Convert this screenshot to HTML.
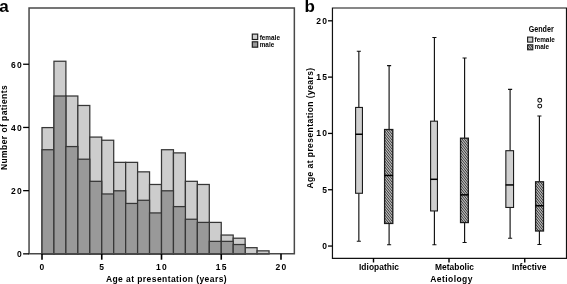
<!DOCTYPE html>
<html lang="en"><head><meta charset="utf-8"><title>Figure</title>
<style>
html,body{margin:0;padding:0;background:#fff;}
body{width:567px;height:284px;overflow:hidden;}
svg{display:block;}
text{font-family:"Liberation Sans",Arial,Helvetica,sans-serif;font-weight:bold;fill:#000;}
.t{font-size:8.5px;letter-spacing:0.43px;}
.k{font-size:8.5px;letter-spacing:1.25px;}
.c{font-size:8.4px;letter-spacing:0.05px;}
.l{font-size:6.4px;letter-spacing:0px;}
.g{font-size:8.3px;letter-spacing:0px;}
.p{font-size:17px;}
</style></head><body>
<svg width="567" height="284" viewBox="0 0 567 284">
<rect width="567" height="284" fill="#fff"/>
<g id="panel-a">
<rect x="42.00" y="127.60" width="11.95" height="126.40" fill="#cdcdcd" stroke="#363636" stroke-width="1.25"/>
<rect x="53.95" y="61.24" width="11.95" height="192.76" fill="#cdcdcd" stroke="#363636" stroke-width="1.25"/>
<rect x="65.90" y="96.00" width="11.95" height="158.00" fill="#cdcdcd" stroke="#363636" stroke-width="1.25"/>
<rect x="77.85" y="105.48" width="11.95" height="148.52" fill="#cdcdcd" stroke="#363636" stroke-width="1.25"/>
<rect x="89.80" y="137.08" width="11.95" height="116.92" fill="#cdcdcd" stroke="#363636" stroke-width="1.25"/>
<rect x="101.75" y="140.24" width="11.95" height="113.76" fill="#cdcdcd" stroke="#363636" stroke-width="1.25"/>
<rect x="113.70" y="162.36" width="11.95" height="91.64" fill="#cdcdcd" stroke="#363636" stroke-width="1.25"/>
<rect x="125.65" y="162.36" width="11.95" height="91.64" fill="#cdcdcd" stroke="#363636" stroke-width="1.25"/>
<rect x="137.60" y="171.84" width="11.95" height="82.16" fill="#cdcdcd" stroke="#363636" stroke-width="1.25"/>
<rect x="149.55" y="184.48" width="11.95" height="69.52" fill="#cdcdcd" stroke="#363636" stroke-width="1.25"/>
<rect x="161.50" y="149.72" width="11.95" height="104.28" fill="#cdcdcd" stroke="#363636" stroke-width="1.25"/>
<rect x="173.45" y="152.88" width="11.95" height="101.12" fill="#cdcdcd" stroke="#363636" stroke-width="1.25"/>
<rect x="185.40" y="181.32" width="11.95" height="72.68" fill="#cdcdcd" stroke="#363636" stroke-width="1.25"/>
<rect x="197.35" y="184.48" width="11.95" height="69.52" fill="#cdcdcd" stroke="#363636" stroke-width="1.25"/>
<rect x="209.30" y="222.40" width="11.95" height="31.60" fill="#cdcdcd" stroke="#363636" stroke-width="1.25"/>
<rect x="221.25" y="235.04" width="11.95" height="18.96" fill="#cdcdcd" stroke="#363636" stroke-width="1.25"/>
<rect x="233.20" y="238.20" width="11.95" height="15.80" fill="#cdcdcd" stroke="#363636" stroke-width="1.25"/>
<rect x="245.15" y="247.68" width="11.95" height="6.32" fill="#cdcdcd" stroke="#363636" stroke-width="1.25"/>
<rect x="257.10" y="250.84" width="11.95" height="3.16" fill="#cdcdcd" stroke="#363636" stroke-width="1.25"/>
<rect x="42.00" y="149.72" width="11.95" height="104.28" fill="#999" stroke="#363636" stroke-width="1.25"/>
<rect x="53.95" y="96.00" width="11.95" height="158.00" fill="#999" stroke="#363636" stroke-width="1.25"/>
<rect x="65.90" y="146.56" width="11.95" height="107.44" fill="#999" stroke="#363636" stroke-width="1.25"/>
<rect x="77.85" y="159.20" width="11.95" height="94.80" fill="#999" stroke="#363636" stroke-width="1.25"/>
<rect x="89.80" y="181.32" width="11.95" height="72.68" fill="#999" stroke="#363636" stroke-width="1.25"/>
<rect x="101.75" y="193.96" width="11.95" height="60.04" fill="#999" stroke="#363636" stroke-width="1.25"/>
<rect x="113.70" y="190.80" width="11.95" height="63.20" fill="#999" stroke="#363636" stroke-width="1.25"/>
<rect x="125.65" y="203.44" width="11.95" height="50.56" fill="#999" stroke="#363636" stroke-width="1.25"/>
<rect x="137.60" y="200.28" width="11.95" height="53.72" fill="#999" stroke="#363636" stroke-width="1.25"/>
<rect x="149.55" y="212.92" width="11.95" height="41.08" fill="#999" stroke="#363636" stroke-width="1.25"/>
<rect x="161.50" y="190.80" width="11.95" height="63.20" fill="#999" stroke="#363636" stroke-width="1.25"/>
<rect x="173.45" y="206.60" width="11.95" height="47.40" fill="#999" stroke="#363636" stroke-width="1.25"/>
<rect x="185.40" y="219.24" width="11.95" height="34.76" fill="#999" stroke="#363636" stroke-width="1.25"/>
<rect x="197.35" y="222.40" width="11.95" height="31.60" fill="#999" stroke="#363636" stroke-width="1.25"/>
<rect x="209.30" y="241.36" width="11.95" height="12.64" fill="#999" stroke="#363636" stroke-width="1.25"/>
<rect x="221.25" y="241.36" width="11.95" height="12.64" fill="#999" stroke="#363636" stroke-width="1.25"/>
<rect x="233.20" y="244.52" width="11.95" height="9.48" fill="#999" stroke="#363636" stroke-width="1.25"/>
<path d="M29.05 253.7V8H294.35V253.7Z" fill="none" stroke="#484848" stroke-width="1.5"/>
<line x1="23.1" x2="29" y1="253.85" y2="253.85" stroke="#000" stroke-width="1.3"/>
<text class="k" x="23" y="257.20" text-anchor="end">0</text>
<line x1="23.1" x2="29" y1="190.65" y2="190.65" stroke="#000" stroke-width="1.3"/>
<text class="k" x="23" y="194.00" text-anchor="end">20</text>
<line x1="23.1" x2="29" y1="127.45" y2="127.45" stroke="#000" stroke-width="1.3"/>
<text class="k" x="23" y="130.80" text-anchor="end">40</text>
<line x1="23.1" x2="29" y1="64.25" y2="64.25" stroke="#000" stroke-width="1.3"/>
<text class="k" x="23" y="67.60" text-anchor="end">60</text>
<line x1="42.00" x2="42.00" y1="253.70" y2="259.7" stroke="#000" stroke-width="1.6"/>
<text class="k" x="42.50" y="270" text-anchor="middle">0</text>
<line x1="101.75" x2="101.75" y1="253.70" y2="259.7" stroke="#000" stroke-width="1.6"/>
<text class="k" x="102.25" y="270" text-anchor="middle">5</text>
<line x1="161.50" x2="161.50" y1="253.70" y2="259.7" stroke="#000" stroke-width="1.6"/>
<text class="k" x="162.00" y="270" text-anchor="middle">10</text>
<line x1="221.25" x2="221.25" y1="253.70" y2="259.7" stroke="#000" stroke-width="1.6"/>
<text class="k" x="221.75" y="270" text-anchor="middle">15</text>
<line x1="281.00" x2="281.00" y1="253.70" y2="259.7" stroke="#000" stroke-width="1.6"/>
<text class="k" x="281.50" y="270" text-anchor="middle">20</text>
<text class="t" x="166.5" y="282.1" text-anchor="middle">Age at presentation (years)</text>
<text class="t" transform="translate(7.2,127.5) rotate(-90)" text-anchor="middle">Number of patients</text>
<text class="p" x="-0.8" y="11.9">a</text>
<rect x="252.3" y="34.1" width="5.4" height="5.4" fill="#d0d0d0" stroke="#1a1a1a" stroke-width="1.15"/>
<rect x="252.3" y="41.8" width="5.4" height="5.4" fill="#989898" stroke="#1a1a1a" stroke-width="1.15"/>
<text class="l" x="259.7" y="39.6">female</text>
<text class="l" x="259.7" y="47.1">male</text>
</g>
<g id="panel-b">
<path d="M332.45 258.4V8H566.5V258.4Z" fill="none" stroke="#111" stroke-width="1.2"/>
<line x1="328" x2="332.4" y1="246.05" y2="246.05" stroke="#000" stroke-width="1.3"/>
<text class="k" x="328.2" y="248.95" text-anchor="end">0</text>
<line x1="328" x2="332.4" y1="189.74" y2="189.74" stroke="#000" stroke-width="1.3"/>
<text class="k" x="328.2" y="192.64" text-anchor="end">5</text>
<line x1="328" x2="332.4" y1="133.43" y2="133.43" stroke="#000" stroke-width="1.3"/>
<text class="k" x="328.2" y="136.33" text-anchor="end">10</text>
<line x1="328" x2="332.4" y1="77.12" y2="77.12" stroke="#000" stroke-width="1.3"/>
<text class="k" x="328.2" y="80.02" text-anchor="end">15</text>
<line x1="328" x2="332.4" y1="20.81" y2="20.81" stroke="#000" stroke-width="1.3"/>
<text class="k" x="328.2" y="23.71" text-anchor="end">20</text>
<line x1="373.5" x2="373.5" y1="258" y2="262.5" stroke="#000" stroke-width="1.4"/>
<text class="c" x="379" y="270" text-anchor="middle">Idiopathic</text>
<line x1="449" x2="449" y1="258" y2="262.5" stroke="#000" stroke-width="1.4"/>
<text class="c" x="454.5" y="270" text-anchor="middle">Metabolic</text>
<line x1="524.75" x2="524.75" y1="258" y2="262.5" stroke="#000" stroke-width="1.4"/>
<text class="c" x="529.2" y="270" text-anchor="middle">Infective</text>
<text class="t" x="451.6" y="282.2" text-anchor="middle">Aetiology</text>
<text class="t" transform="translate(312.8,128) rotate(-90)" text-anchor="middle">Age at presentation (years)</text>
<text class="p" x="304.6" y="11.7">b</text>
<path d="M358.85 51.26V107.45M358.85 193.27V241.25M356.80 51.26H360.90M356.80 241.25H360.90" stroke="#111" stroke-width="1.15" fill="none"/>
<rect x="355.60" y="107.45" width="6.85" height="85.82" fill="#d0d0d0" stroke="#1c1c1c" stroke-width="1.1"/>
<line x1="355.35" x2="362.70" y1="134.26" y2="134.26" stroke="#000" stroke-width="1.5"/>
<path d="M389.1 65.56V129.53M389.1 223.45V244.74M387.05 65.56H391.15M387.05 244.74H391.15" stroke="#111" stroke-width="1.15" fill="none"/>
<clipPath id="c1"><rect x="384.60" y="129.53" width="8.20" height="93.93"/></clipPath>
<rect x="384.60" y="129.53" width="8.20" height="93.93" fill="#bcbcbc"/>
<path clip-path="url(#c1)" d="M384.60 118.75L392.80 129.00M384.60 121.75L392.80 132.00M384.60 124.75L392.80 135.00M384.60 127.75L392.80 138.00M384.60 130.75L392.80 141.00M384.60 133.75L392.80 144.00M384.60 136.75L392.80 147.00M384.60 139.75L392.80 150.00M384.60 142.75L392.80 153.00M384.60 145.75L392.80 156.00M384.60 148.75L392.80 159.00M384.60 151.75L392.80 162.00M384.60 154.75L392.80 165.00M384.60 157.75L392.80 168.00M384.60 160.75L392.80 171.00M384.60 163.75L392.80 174.00M384.60 166.75L392.80 177.00M384.60 169.75L392.80 180.00M384.60 172.75L392.80 183.00M384.60 175.75L392.80 186.00M384.60 178.75L392.80 189.00M384.60 181.75L392.80 192.00M384.60 184.75L392.80 195.00M384.60 187.75L392.80 198.00M384.60 190.75L392.80 201.00M384.60 193.75L392.80 204.00M384.60 196.75L392.80 207.00M384.60 199.75L392.80 210.00M384.60 202.75L392.80 213.00M384.60 205.75L392.80 216.00M384.60 208.75L392.80 219.00M384.60 211.75L392.80 222.00M384.60 214.75L392.80 225.00M384.60 217.75L392.80 228.00M384.60 220.75L392.80 231.00" stroke="#303030" stroke-width="0.95" fill="none"/>
<rect x="384.60" y="129.53" width="8.20" height="93.93" fill="none" stroke="#1c1c1c" stroke-width="1.3"/>
<line x1="384.35" x2="393.05" y1="175.48" y2="175.48" stroke="#000" stroke-width="1.5"/>
<path d="M434.4 37.52V121.19M434.4 210.95V244.74M432.35 37.52H436.45M432.35 244.74H436.45" stroke="#111" stroke-width="1.15" fill="none"/>
<rect x="430.60" y="121.19" width="6.85" height="89.76" fill="#d0d0d0" stroke="#1c1c1c" stroke-width="1.1"/>
<line x1="430.35" x2="437.70" y1="179.30" y2="179.30" stroke="#000" stroke-width="1.5"/>
<path d="M464.6 58.01V138.20M464.6 222.55V242.48M462.55 58.01H466.65M462.55 242.48H466.65" stroke="#111" stroke-width="1.15" fill="none"/>
<clipPath id="c2"><rect x="460.55" y="138.20" width="7.80" height="84.35"/></clipPath>
<rect x="460.55" y="138.20" width="7.80" height="84.35" fill="#bcbcbc"/>
<path clip-path="url(#c2)" d="M460.55 128.25L468.35 138.00M460.55 131.25L468.35 141.00M460.55 134.25L468.35 144.00M460.55 137.25L468.35 147.00M460.55 140.25L468.35 150.00M460.55 143.25L468.35 153.00M460.55 146.25L468.35 156.00M460.55 149.25L468.35 159.00M460.55 152.25L468.35 162.00M460.55 155.25L468.35 165.00M460.55 158.25L468.35 168.00M460.55 161.25L468.35 171.00M460.55 164.25L468.35 174.00M460.55 167.25L468.35 177.00M460.55 170.25L468.35 180.00M460.55 173.25L468.35 183.00M460.55 176.25L468.35 186.00M460.55 179.25L468.35 189.00M460.55 182.25L468.35 192.00M460.55 185.25L468.35 195.00M460.55 188.25L468.35 198.00M460.55 191.25L468.35 201.00M460.55 194.25L468.35 204.00M460.55 197.25L468.35 207.00M460.55 200.25L468.35 210.00M460.55 203.25L468.35 213.00M460.55 206.25L468.35 216.00M460.55 209.25L468.35 219.00M460.55 212.25L468.35 222.00M460.55 215.25L468.35 225.00M460.55 218.25L468.35 228.00M460.55 221.25L468.35 231.00" stroke="#303030" stroke-width="0.95" fill="none"/>
<rect x="460.55" y="138.20" width="7.80" height="84.35" fill="none" stroke="#1c1c1c" stroke-width="1.3"/>
<line x1="460.30" x2="468.60" y1="194.85" y2="194.85" stroke="#000" stroke-width="1.5"/>
<path d="M510.1 89.43V150.70M510.1 207.46V238.20M508.05 89.43H512.15M508.05 238.20H512.15" stroke="#111" stroke-width="1.15" fill="none"/>
<rect x="505.85" y="150.70" width="7.70" height="56.76" fill="#d0d0d0" stroke="#1c1c1c" stroke-width="1.1"/>
<line x1="505.60" x2="513.80" y1="184.94" y2="184.94" stroke="#000" stroke-width="1.5"/>
<path d="M539.4 116.01V181.78M539.4 231.00V244.51M537.35 116.01H541.45M537.35 244.51H541.45" stroke="#111" stroke-width="1.15" fill="none"/>
<clipPath id="c3"><rect x="535.60" y="181.78" width="7.90" height="49.21"/></clipPath>
<rect x="535.60" y="181.78" width="7.90" height="49.21" fill="#bcbcbc"/>
<path clip-path="url(#c3)" d="M535.60 170.12L543.50 180.00M535.60 173.12L543.50 183.00M535.60 176.12L543.50 186.00M535.60 179.12L543.50 189.00M535.60 182.12L543.50 192.00M535.60 185.12L543.50 195.00M535.60 188.12L543.50 198.00M535.60 191.12L543.50 201.00M535.60 194.12L543.50 204.00M535.60 197.12L543.50 207.00M535.60 200.12L543.50 210.00M535.60 203.12L543.50 213.00M535.60 206.12L543.50 216.00M535.60 209.12L543.50 219.00M535.60 212.12L543.50 222.00M535.60 215.12L543.50 225.00M535.60 218.12L543.50 228.00M535.60 221.12L543.50 231.00M535.60 224.12L543.50 234.00M535.60 227.12L543.50 237.00M535.60 230.12L543.50 240.00" stroke="#303030" stroke-width="0.95" fill="none"/>
<rect x="535.60" y="181.78" width="7.90" height="49.21" fill="none" stroke="#1c1c1c" stroke-width="1.3"/>
<line x1="535.35" x2="543.75" y1="205.77" y2="205.77" stroke="#000" stroke-width="1.5"/>
<circle cx="539.75" cy="100.30" r="1.95" fill="#fff" stroke="#111" stroke-width="1.05"/>
<circle cx="539.75" cy="106.10" r="1.95" fill="#fff" stroke="#111" stroke-width="1.05"/>
<text class="g" transform="translate(528.7,31.7) scale(0.86,1)">Gender</text>
<rect x="527.6" y="37.1" width="5.2" height="5" fill="#d0d0d0" stroke="#1a1a1a" stroke-width="1.1"/>
<clipPath id="c4"><rect x="527.60" y="44.80" width="5.20" height="5.00"/></clipPath>
<rect x="527.60" y="44.80" width="5.20" height="5.00" fill="#bcbcbc"/>
<path clip-path="url(#c4)" d="M527.60 35.50L532.80 42.00M527.60 38.50L532.80 45.00M527.60 41.50L532.80 48.00M527.60 44.50L532.80 51.00M527.60 47.50L532.80 54.00" stroke="#303030" stroke-width="0.95" fill="none"/>
<rect x="527.60" y="44.80" width="5.20" height="5.00" fill="none" stroke="#1a1a1a" stroke-width="1.1"/>
<text class="l" x="534.5" y="41.7">female</text>
<text class="l" x="534.5" y="49.4">male</text>
</g>
</svg>
</body></html>
